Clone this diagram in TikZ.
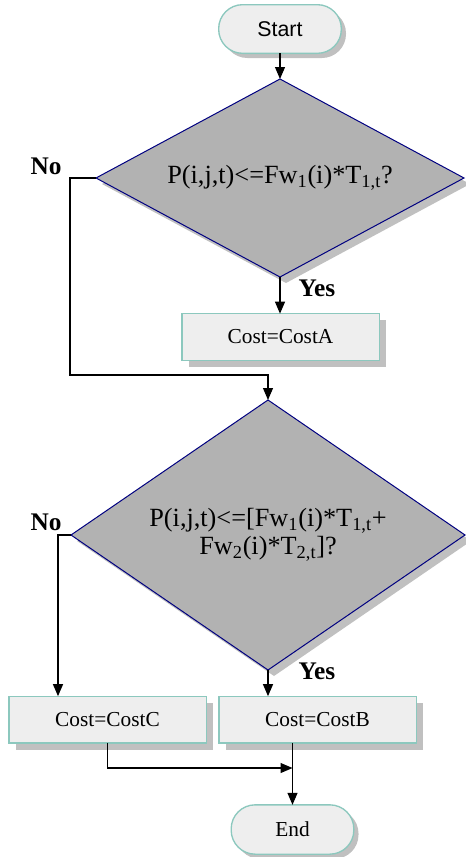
\documentclass[tikz,border=0pt]{standalone}
\usepackage{fontspec}
\setmainfont{Liberation Serif}
\newfontfamily\arialfont{Liberation Sans}
\usetikzlibrary{arrows.meta,shapes.geometric,shadows}
\definecolor{boxfill}{RGB}{238,238,238}
\definecolor{boxline}{RGB}{140,200,190}
\definecolor{decfill}{RGB}{178,178,178}
\definecolor{decline}{RGB}{0,0,128}
\definecolor{shade}{RGB}{192,192,192}

\begin{document}
\begin{tikzpicture}[x=.75pt,y=-.75pt,>={Triangle[length=9pt,width=7.5pt]},line width=.8pt,
  term/.style={draw=boxline,fill=boxfill,line width=1pt,rounded corners=18pt,minimum width=92pt,minimum height=36.5pt,inner sep=0pt,outer sep=0pt,drop shadow={shadow xshift=3.5pt,shadow yshift=-3.5pt,fill=shade,opacity=1}},
  proc/.style={draw=boxline,fill=boxfill,line width=1pt,minimum width=148pt,minimum height=35pt,inner sep=0pt,outer sep=0pt,font=\fontsize{16pt}{19pt}\selectfont,drop shadow={shadow xshift=5pt,shadow yshift=-5pt,fill=shade,opacity=1}},
  dec/.style={diamond,draw=decline,fill=decfill,line width=.75pt,inner sep=0pt,outer sep=0pt,align=center,font=\fontsize{19.7pt}{21pt}\selectfont,drop shadow={shadow xshift=4.5pt,shadow yshift=-4.5pt,fill=shade,opacity=1}},
  lab/.style={font=\fontsize{19pt}{22pt}\selectfont\bfseries,inner sep=0pt}]
\useasboundingbox(0,0)rectangle(466,857);
% nodes
\node[term,font=\arialfont\fontsize{16pt}{19pt}\selectfont](start)at(280,29){Start};
\node[dec,minimum width=276pt,minimum height=148.5pt,shape aspect=1.86](d1)at(280,178){P(i,j,t)<=Fw\textsubscript{1}(i)*T\textsubscript{1,t}?};
\node[proc](ca)at(280.5,337){Cost=CostA};
\node[dec,minimum width=295.5pt,minimum height=202.5pt,shape aspect=1.46](d2)at(268,535){P(i,j,t)<=[Fw\textsubscript{1}(i)*T\textsubscript{1,t}+\\Fw\textsubscript{2}(i)*T\textsubscript{2,t}]?};
\node[proc](cc)at(107.5,719.5){Cost=CostC};
\node[proc](cb)at(317.5,719.5){Cost=CostB};
\node[term,minimum height=37pt,font=\fontsize{16pt}{19pt}\selectfont](end)at(292.5,829.5){End};
\node[lab](no1)at(46,166){No};\node[lab](yes1)at(317,288){Yes};
\node[lab](no2)at(46,522){No};\node[lab](yes2)at(317,671){Yes};
% connectors
\coordinate(j1)at(70,375);\coordinate(j2)at(58,535);\coordinate(j3)at(107.5,768);
\draw[->](start)--(d1.north);
\draw[->](d1.south)--(ca.north-|d1.south);
\draw[->](d1.west)-|(j1)-|(d2.north);
\draw[->](d2.west)--(j2)--(j2|-cc.north);
\draw[->](d2.south)--(cb.north-|d2.south);
\draw[->](cc.south)--(j3)--(j3-|end);
\draw[->](cb.south-|end)--(end.north);
\end{tikzpicture}
\end{document}
